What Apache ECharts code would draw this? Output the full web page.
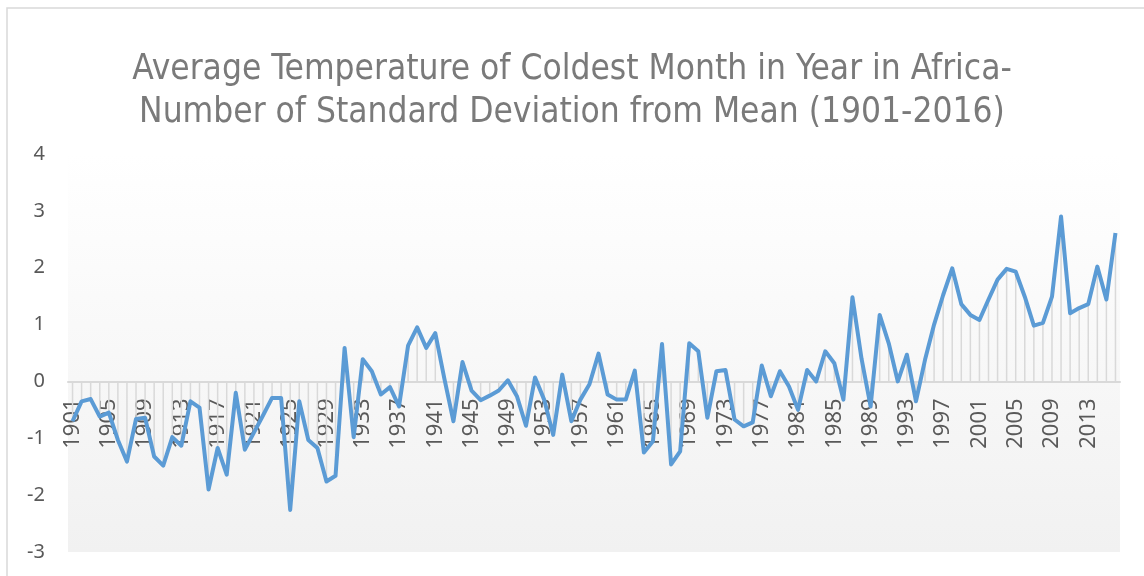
<!DOCTYPE html>
<html>
<head>
<meta charset="utf-8">
<script src="https://cdn.jsdelivr.net/npm/echarts@6/dist/echarts.min.js"></script>
<style>
  html, body { margin: 0; padding: 0; background: #fff; }
  #main { width: 1144px; height: 576px; }
</style>
</head>
<body>
<div id="main"></div>
<script>
// years 1901..2016
var years = [];
for (var y = 1901; y <= 2016; y++) years.push(String(y));

// std deviations from mean
var stdDev1901 = [-0.7, -0.35, -0.31, -0.62, -0.55, -1.03, -1.41, -0.66, -0.64, -1.32]; // 1901-1910
var stdDev1911 = [-1.48, -0.98, -1.13, -0.35, -0.46, -1.9, -1.17, -1.64, -0.2, -1.2]; // 1911-1920
var stdDev1921 = [-0.9, -0.6, -0.29, -0.29, -2.26, -0.35, -1.03, -1.17, -1.76, -1.66]; // 1921-1930
var stdDev1931 = [0.59, -0.98, 0.39, 0.18, -0.23, -0.1, -0.44, 0.63, 0.95, 0.59]; // 1931-1940
var stdDev1941 = [0.85, 0.05, -0.7, 0.34, -0.16, -0.33, -0.25, -0.16, 0.02, -0.26]; // 1941-1950
var stdDev1951 = [-0.78, 0.07, -0.32, -0.94, 0.12, -0.7, -0.32, -0.05, 0.49, -0.23]; // 1951-1960
var stdDev1961 = [-0.32, -0.32, 0.19, -1.25, -1.05, 0.66, -1.46, -1.23, 0.67, 0.53]; // 1961-1970
var stdDev1971 = [-0.64, 0.18, 0.2, -0.67, -0.79, -0.72, 0.28, -0.26, 0.18, -0.09]; // 1971-1980
var stdDev1981 = [-0.5, 0.2, 0.0, 0.53, 0.32, -0.32, 1.48, 0.4, -0.44, 1.17]; // 1981-1990
var stdDev1991 = [0.67, 0.0, 0.47, -0.35, 0.38, 1.0, 1.52, 1.99, 1.36, 1.17]; // 1991-2000
var stdDev2001 = [1.08, 1.44, 1.79, 1.98, 1.93, 1.49, 0.98, 1.03, 1.49, 2.9]; // 2001-2010
var stdDev2011 = [1.2, 1.29, 1.36, 2.02, 1.44, 2.61]; // 2011-2016

var values = [].concat(stdDev1901, stdDev1911, stdDev1921, stdDev1931, stdDev1941,
  stdDev1951, stdDev1961, stdDev1971, stdDev1981, stdDev1991, stdDev2001, stdDev2011);

var yTicks = [-3, -2, -1, 0, 1, 2, 3, 4];

var gridTop = 154, gridBottom = 24;
var plotH = 576 - gridTop - gridBottom;
// category axis sits on the 0 line (excel style), labels with it
var zeroOffset = -plotH * (0 - yTicks[0]) / (yTicks[yTicks.length - 1] - yTicks[0]);

var labelFont = '"Noto Sans", sans-serif';

var chart = echarts.init(document.getElementById('main'));

var option = {
  animation: false,
  backgroundColor: '#fff',
  title: {
    text: 'Average Temperature of Coldest Month in Year in Africa-\nNumber of Standard Deviation from Mean (1901-2016)',
    left: 'center',
    top: 43,
    padding: [5, 5, 5, 35],
    textStyle: {
      fontFamily: 'Liberation Sans Narrow, DejaVu Sans Condensed, sans-serif',
      fontSize: 35,
      fontWeight: 'normal',
      color: '#7a7a7a',
      lineHeight: 43
    }
  },
  graphic: [{
    type: 'rect',
    shape: { x: 7, y: 8, width: 1160, height: 600 },
    style: { fill: 'none', stroke: '#d9d9d9', lineWidth: 1.5 },
    silent: true
  }],
  grid: {
    left: 68,
    right: 24,
    top: gridTop,
    bottom: gridBottom,
    outerBoundsMode: 'none',
    containLabel: false,
    show: true,
    borderWidth: 0,
    backgroundColor: new echarts.graphic.LinearGradient(0, 0, 0, 1, [
      { offset: 0, color: '#ffffff' },
      { offset: 1, color: '#f1f1f1' }
    ])
  },
  xAxis: {
    type: 'category',
    data: years,
    boundaryGap: true,
    offset: zeroOffset,
    axisLine: { onZero: false, lineStyle: { color: '#d9d9d9', width: 2 } },
    axisTick: { show: false },
    axisLabel: {
      interval: 3,
      rotate: 90,
      margin: 17,
      fontSize: 22,
      fontFamily: labelFont,
      color: '#595959'
    },
    splitLine: { show: false }
  },
  yAxis: {
    type: 'value',
    min: yTicks[0],
    max: yTicks[yTicks.length - 1],
    interval: 1,
    axisLine: { show: false },
    axisTick: { show: false },
    splitLine: { show: false },
    axisLabel: {
      margin: 23,
      fontSize: 20,
      fontFamily: labelFont,
      color: '#595959'
    }
  },
  series: [{
    // drop lines to the zero axis
    type: 'bar',
    data: values,
    barWidth: 1.5,
    silent: true,
    itemStyle: { color: '#d9d9d9' },
    z: 1
  }, {
    type: 'line',
    data: values,
    symbol: 'none',
    lineStyle: { color: '#5b9bd5', width: 4, join: 'round' },
    z: 3
  }]
};

chart.setOption(option);
</script>
</body>
</html>
